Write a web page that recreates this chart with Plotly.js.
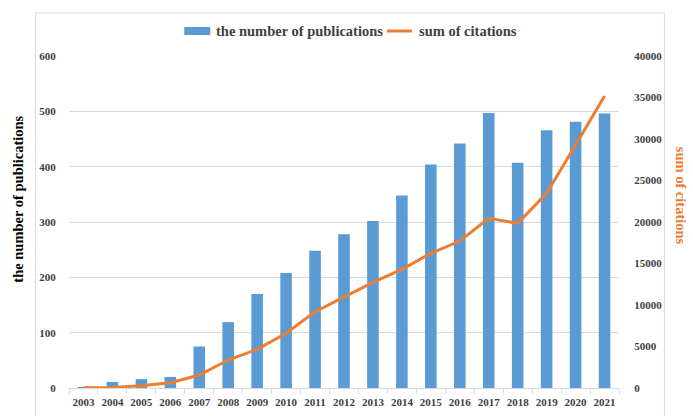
<!DOCTYPE html>
<html>
<head>
<meta charset="utf-8">
<script src="https://cdn.plot.ly/plotly-3.0.1.min.js"></script>
<style>html,body{margin:0;padding:0;background:#fff;}#chart{width:693px;height:416px;}</style>
</head>
<body>
<div id="chart"></div>
<script>
const years = ["2003","2004","2005","2006","2007","2008","2009","2010","2011","2012","2013","2014","2015","2016","2017","2018","2019","2020","2021"];
const publications = [2, 11, 16, 20, 75, 119, 170, 208, 248, 278, 302, 348, 404, 442, 497, 407, 466, 481, 496];
const citations = [20, 60, 280, 640, 1570, 3370, 4660, 6590, 9190, 11000, 12730, 14300, 16230, 17710, 20440, 19840, 23460, 29280, 35180];
const leftTicks = [0, 100, 200, 300, 400, 500, 600];
const rightTicks = [0, 5000, 10000, 15000, 20000, 25000, 30000, 35000, 40000];
const rightTickText = ["0", "5000", "10000", "15000", "20000", "25000", "30000", "35000", "40000"];
const barName = "the number of publications";
const lineName = "sum of citations";

const serif = "Liberation Serif, Times New Roman, serif";
const tickFont = {family: serif, size: 11, color: "#404040", weight: "bold"};
const blue = "#5B9BD5", orange = "#ED7D31";

const traces = [
  {type: "bar", x: years, y: publications, name: barName,
   marker: {color: blue}, yaxis: "y"},
  {type: "scatter", mode: "lines", x: years, y: citations, name: lineName,
   line: {color: orange, width: 3}, yaxis: "y2"}
];

const legFont = {family: serif, size: 14.5, color: "#404040", weight: "bold"};

const layout = {
  width: 693, height: 416,
  margin: {l: 68.5, r: 73.5, t: 56, b: 28, pad: 0},
  paper_bgcolor: "#fff", plot_bgcolor: "#fff",
  bargap: 0.6,
  showlegend: false,
  xaxis: {type: "category", tickfont: tickFont, tickangle: 0, showgrid: false, showline: true,
    linecolor: "#d9d9d9", linewidth: 1, ticks: "outside", tickson: "boundaries",
    ticklen: 5, tickcolor: "#d9d9d9", ticklabelstandoff: 4, fixedrange: true},
  yaxis: {range: [0, 600], tickvals: leftTicks, tickfont: tickFont, showgrid: true,
    gridcolor: "#d9d9d9", gridwidth: 1, zeroline: false, showline: false,
    ticks: "outside", ticklen: 10, tickcolor: "rgba(0,0,0,0)"},
  yaxis2: {range: [0, 40000], tickvals: rightTicks, ticktext: rightTickText, overlaying: "y", side: "right",
    tickfont: tickFont, showgrid: false, zeroline: false, showline: false,
    ticks: "outside", ticklen: 12, tickcolor: "rgba(0,0,0,0)"},
  annotations: [
    {text: "the number of publications", xref: "paper", yref: "paper",
     x: -0.0917, y: 0.569, xanchor: "center", yanchor: "middle", textangle: -90, showarrow: false,
     font: {family: serif, size: 14.5, color: "#000", weight: "bold"}},
    {text: "sum of citations", xref: "paper", yref: "paper",
     x: 1.1134, y: 0.578, xanchor: "center", yanchor: "middle", textangle: 90, showarrow: false,
     font: {family: serif, size: 14.5, color: orange, weight: "bold"}},
    {text: barName, xref: "paper", yref: "paper", x: 0.264, y: 1.0753,
     xanchor: "left", yanchor: "middle", showarrow: false, font: legFont},
    {text: lineName, xref: "paper", yref: "paper", x: 0.6325, y: 1.0753,
     xanchor: "left", yanchor: "middle", showarrow: false, font: legFont}
  ],
  shapes: [
    {type: "rect", xref: "paper", yref: "paper", x0: -0.0608, x1: 1.0826, y0: -0.1, y1: 1.1295,
     line: {color: "#d9d9d9", width: 1}, fillcolor: "rgba(0,0,0,0)", layer: "below"},
    {type: "rect", xref: "paper", yref: "paper", x0: 0.2096, x1: 0.2568, y0: 1.0633, y1: 1.0873,
     line: {width: 0}, fillcolor: blue},
    {type: "line", xref: "paper", yref: "paper", x0: 0.578, x1: 0.6234, y0: 1.0753, y1: 1.0753,
     line: {color: orange, width: 3}}
  ]
};

Plotly.newPlot("chart", traces, layout, {staticPlot: true, displayModeBar: false});
</script>
</body>
</html>
